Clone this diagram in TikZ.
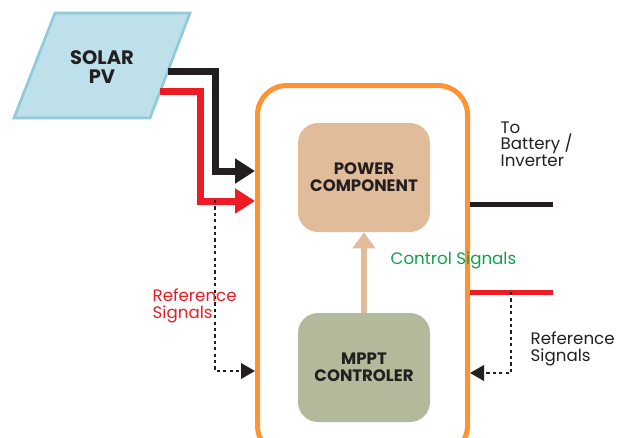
\documentclass[tikz,border=0pt]{standalone}
\usepackage{fontspec}
\setmainfont{Poppins}
\usetikzlibrary{arrows.meta, calc}

\definecolor{pvfill}{HTML}{BEE0EA}
\definecolor{pvline}{HTML}{92C9DB}
\definecolor{marco}{HTML}{FF9232}
\definecolor{potencia}{HTML}{E0BC9B}
\definecolor{mppt}{HTML}{B3BA9C}
\definecolor{rojo}{HTML}{ED1C24}
\definecolor{verde}{HTML}{12A04A}
\definecolor{negro}{HTML}{231F20}

\begin{document}
\begin{tikzpicture}[x=0.75pt, y=-0.75pt,
  caja/.style={rounded corners=15pt, minimum width=99pt, minimum height=81.75pt,
    align=center, font=\fontsize{12.4}{12.6}\selectfont\bfseries, text=negro},
  cable/.style={line width=5.25pt},
  senal/.style={line width=2.1pt, dash pattern=on 2.4pt off 2.4pt, negro,
    -{Triangle[length=10.5pt, width=11.5pt]}},
  texto/.style={align=left, anchor=west, font=\fontsize{12.5}{12.2}\selectfont}]
  \useasboundingbox (0,0) rectangle (629,437);

  % panel solar
  \draw[fill=pvfill, draw=pvline, line width=2pt] (55,13) -- (190,13) -- (150,118) -- (14,118) -- cycle;
  \node[align=center, font=\fontsize{14.6}{14.5}\selectfont\bfseries, text=negro] (pv) at (102,67) {SOLAR\\PV};

  % marco del controlador
  \node[draw=marco, line width=3.75pt, rounded corners=22pt, minimum width=157.5pt,
    minimum height=277.1pt] (ctrl) at (362.5,270.25) {};
  \node[caja, fill=potencia] (power) at (364,177.5) {POWER\\COMPONENT};
  \node[caja, fill=mppt] (mpptc) at (364,367.5) {MPPT\\CONTROLER};
  \draw[line width=4.5pt, potencia, -{Triangle[length=12pt, width=16.5pt]}] (mpptc.north) -- (power.south);
  \node[texto, text=verde] (ctl) at (386,260) {Control Signals};

  % cables de entrada
  \coordinate (negin) at (168,71);
  \coordinate (rojin) at (160,91);
  \draw[cable, negro, -{Triangle[length=15pt, width=18pt]}] (negin) -- (215,71) -- (215,171) -- (ctrl.west |- 0,171);
  \draw[cable, rojo, -{Triangle[length=15pt, width=18pt]}] (rojin) -- (200,91) -- (200,201) -- (ctrl.west |- 0,201);

  % cables de salida
  \coordinate (bat) at (553,204);
  \coordinate (ref) at (553,292);
  \draw[line width=3.75pt, negro] (ctrl.east |- bat) -- (bat);
  \draw[line width=3.75pt, rojo] (ctrl.east |- ref) -- (ref);
  \node[texto, text=negro] (batt) at (496,144) {To\\Battery /\\Inverter};

  % senales de referencia
  \draw[senal] (215,200) -- (215,371) -- (ctrl.west |- 0,371);
  \draw[senal] (511,292) -- (511,373) -- (ctrl.east |- 0,373);
  \node[texto, text=rojo] (refl) at (148,306) {Reference\\Signals};
  \node[texto, text=negro] (refr) at (526,349) {Reference\\Signals};
\end{tikzpicture}
\end{document}
